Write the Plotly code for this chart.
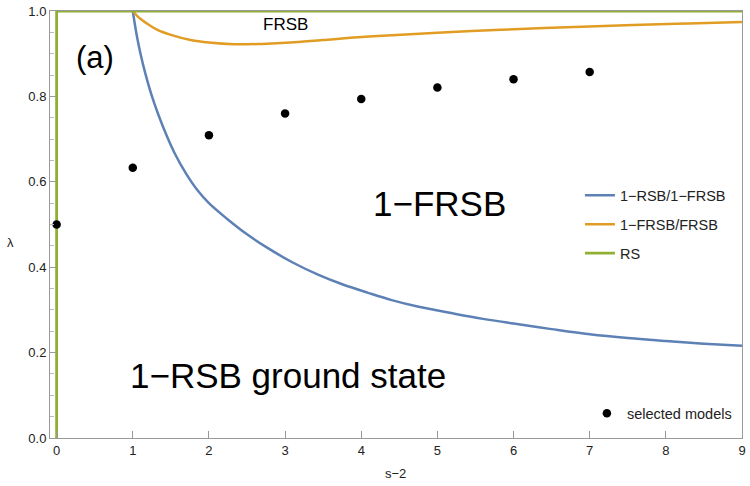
import plotly.graph_objects as go

# ---- data ----
blue_x = [1.0, 1.05, 1.1, 1.15, 1.25, 1.33, 1.45, 1.55, 1.7, 1.85, 2.0, 2.24, 2.5, 2.78,
          3.1, 3.44, 3.75, 4.09, 4.4, 4.74, 5.2, 5.6, 6.0, 6.5, 7.0, 7.5, 8.0, 8.5, 9.0]
blue_y = [1.0, 0.945, 0.901, 0.864, 0.801, 0.760, 0.706, 0.667, 0.619, 0.580, 0.550, 0.513,
          0.477, 0.444, 0.411, 0.382, 0.360, 0.340, 0.323, 0.308, 0.292, 0.279, 0.268,
          0.255, 0.243, 0.234, 0.227, 0.221, 0.216]

orange_x = [1.0, 1.05, 1.1, 1.2, 1.33, 1.5, 1.76, 2.0, 2.33, 2.7, 3.07, 3.5, 4.1, 5.0,
            5.83, 6.7, 7.57, 8.3, 9.0]
orange_y = [1.0, 0.990, 0.982, 0.969, 0.955, 0.944, 0.932, 0.926, 0.922, 0.923, 0.926,
            0.932, 0.940, 0.949, 0.956, 0.962, 0.967, 0.971, 0.974]

rs_x = [0, 0, 9]
rs_y = [0, 1, 1]

model_x = [0, 1, 2, 3, 4, 5, 6, 7]
model_y = [0.5, 0.633, 0.709, 0.760, 0.794, 0.821, 0.840, 0.857]

x_ticks = [0, 1, 2, 3, 4, 5, 6, 7, 8, 9]
y_ticks = [0.0, 0.2, 0.4, 0.6, 0.8, 1.0]
y_labels = ["0.0", "0.2", "0.4", "0.6", "0.8", "1.0"]

BLUE = "#5e81b5"
ORANGE = "#e19c24"
GREEN = "#8fb032"
FONT = "Liberation Sans, Arial, sans-serif"

fig = go.Figure()
fig.add_trace(go.Scatter(x=blue_x, y=blue_y, mode="lines", name="1\u2212RSB/1\u2212FRSB",
                         line=dict(color=BLUE, width=2.5, shape="spline", smoothing=1.0),
                         legendgroup="a", legend="legend"))
fig.add_trace(go.Scatter(x=orange_x, y=orange_y, mode="lines", name="1\u2212FRSB/FRSB",
                         line=dict(color=ORANGE, width=2.5, shape="spline", smoothing=1.0),
                         legendgroup="b", legend="legend"))
fig.add_trace(go.Scatter(x=rs_x, y=rs_y, mode="lines", name="RS",
                         line=dict(color=GREEN, width=2.8),
                         legendgroup="c", legend="legend"))
fig.add_trace(go.Scatter(x=model_x, y=model_y, mode="markers", name="selected models",
                         marker=dict(color="black", size=8.5),
                         legend="legend2", cliponaxis=False))

annots = [
    dict(x=95.5, y=54, text="(a)", size=31),
    dict(x=286.5, y=21, text="FRSB", size=17),
    dict(x=441.5, y=201, text="1\u2212FRSB", size=35),
    dict(x=289.5, y=375, text="1\u2212RSB ground state", size=35),
]
W, H = 750, 486
L, R, T, B = 50, 4, 7, 48
pw, ph = W - L - R, H - T - B
for a in annots:
    fig.add_annotation(x=(a["x"] - L) / pw, y=1 - (a["y"] - T) / ph, xref="paper", yref="paper",
                       text=a["text"], showarrow=False, xanchor="center", yanchor="middle",
                       font=dict(size=a["size"], color="black", family=FONT))

# axis labels
fig.add_annotation(x=(397.5 - L) / pw, y=1 - (474 - T) / ph, xref="paper", yref="paper",
                   text="s\u22122", showarrow=False, xanchor="center", yanchor="middle",
                   font=dict(size=13, color="#222", family=FONT))
fig.add_annotation(x=(10 - L) / pw, y=1 - (241 - T) / ph, xref="paper", yref="paper",
                   text="\u03bb", showarrow=False, xanchor="center", yanchor="middle",
                   font=dict(size=13, color="#222", family=FONT))

fig.update_layout(
    width=W, height=H,
    margin=dict(l=L, r=R, t=T, b=B),
    paper_bgcolor="white", plot_bgcolor="white",
    font=dict(family=FONT, color="#222", size=13),
    showlegend=True,
    legend=dict(x=(583 - L) / pw, y=1 - (177 - T) / ph, xanchor="left", yanchor="top",
                bgcolor="rgba(0,0,0,0)", font=dict(size=14.5, color="#222"),
                tracegroupgap=7, itemwidth=30),
    legend2=dict(x=(590 - L) / pw, y=1 - (397 - T) / ph, xanchor="left", yanchor="top",
                 bgcolor="rgba(0,0,0,0)", font=dict(size=14.5, color="#222")),
    xaxis=dict(range=[-0.087, 9], tickvals=x_ticks, ticks="inside", ticklen=7,
               tickcolor="#999", linecolor="#999", linewidth=1, mirror=True,
               showgrid=False, zeroline=False, tickfont=dict(size=13, color="#222"),
               ticklabeloverflow="allow"),
    yaxis=dict(range=[0, 1], tickvals=y_ticks, ticktext=y_labels, ticks="inside",
               ticklen=6, tickcolor="#999", linecolor="#999", linewidth=1, mirror=True,
               showgrid=False, zeroline=False, tickfont=dict(size=13, color="#222"),
               ticklabeloverflow="allow",
               minor=dict(dtick=0.05, ticks="inside", ticklen=4, tickcolor="#bbb")),
)

fig.write_html("out.html")
